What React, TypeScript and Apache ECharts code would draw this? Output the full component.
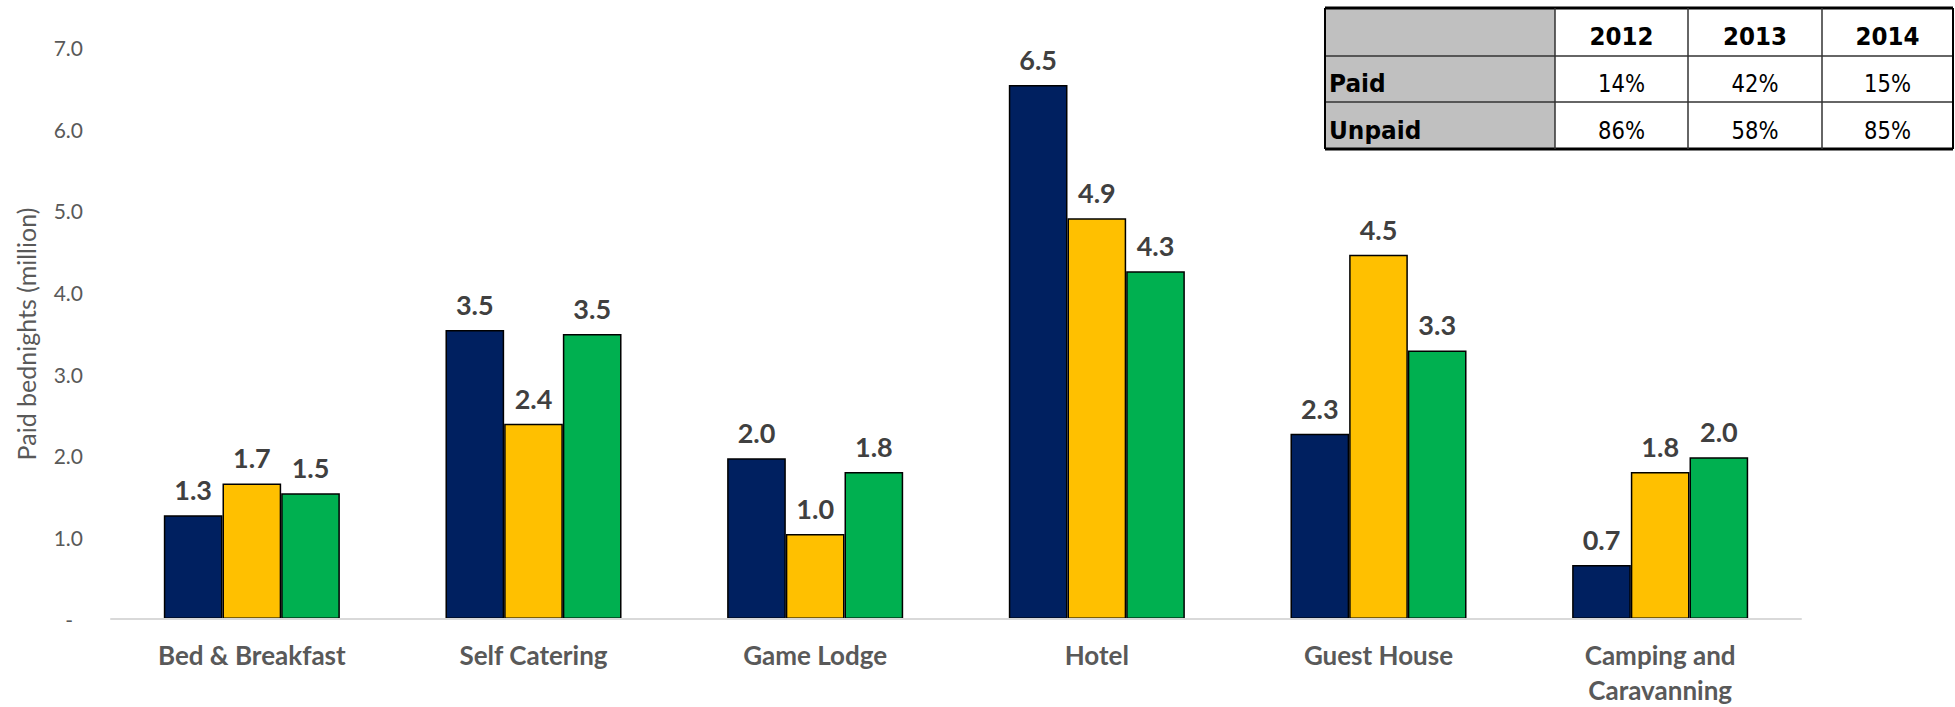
import React, { useEffect, useRef } from "react";
import * as echarts from "echarts";

const categories = [
  "Bed & Breakfast",
  "Self Catering",
  "Game Lodge",
  "Hotel",
  "Guest House",
  "Camping and\nCaravanning",
];
const seriesNames = ["2012", "2013", "2014"];
const values2012 = [1.27, 3.54, 1.97, 6.54, 2.27, 0.66];
const values2013 = [1.66, 2.39, 1.04, 4.91, 4.46, 1.8];
const values2014 = [1.54, 3.49, 1.8, 4.26, 3.29, 1.98];
const seriesColors = ["#002060", "#FFC000", "#00B050"];

const tableYears = ["2012", "2013", "2014"];
const tableRowLabels = ["Paid", "Unpaid"];
const paidShare = ["14%", "42%", "15%"];
const unpaidShare = ["86%", "58%", "85%"];

const yTitle = "Paid bednights (million)";

function buildTable(): any[] {
  const left = 1325;
  const colX = [1325, 1555, 1688, 1822, 1953];
  const rowY = [8, 56, 102, 149];
  const els: any[] = [];
  els.push({
    type: "rect",
    shape: { x: colX[0], y: rowY[0], width: colX[1] - colX[0], height: rowY[3] - rowY[0] },
    style: { fill: "#C0C0C0" },
    z: 10,
  });
  rowY.forEach((y, i) => {
    const outer = i === 0 || i === rowY.length - 1;
    els.push({
      type: "line",
      shape: { x1: left, y1: y, x2: colX[4], y2: y },
      style: { stroke: outer ? "#000" : "#333", lineWidth: outer ? 3 : 1.5 },
      z: 11,
    });
  });
  colX.forEach((x, i) => {
    const outer = i === 0 || i === colX.length - 1;
    els.push({
      type: "line",
      shape: { x1: x, y1: rowY[0], x2: x, y2: rowY[3] },
      style: { stroke: outer ? "#000" : "#333", lineWidth: outer ? 2 : 1.5 },
      z: 11,
    });
  });
  const rowMid = (r: number) => (rowY[r] + rowY[r + 1]) / 2 + 5;
  tableYears.forEach((yr, i) => {
    els.push({
      type: "text",
      x: (colX[i + 1] + colX[i + 2]) / 2,
      y: rowMid(0),
      scaleX: 0.92,
      style: {
        text: yr,
        align: "center",
        verticalAlign: "middle",
        fontFamily: "DejaVu Sans",
        fontWeight: "bold",
        fontSize: 25,
        fill: "#000",
      },
      z: 12,
    });
  });
  const rows = [paidShare, unpaidShare];
  tableRowLabels.forEach((lab, r) => {
    els.push({
      type: "text",
      x: colX[0] + 4,
      y: rowMid(r + 1),
      scaleX: 0.93,
      style: {
        text: lab,
        align: "left",
        verticalAlign: "middle",
        fontFamily: "DejaVu Sans",
        fontWeight: "bold",
        fontSize: 25,
        fill: "#000",
      },
      z: 12,
    });
    rows[r].forEach((v, i) => {
      els.push({
        type: "text",
        x: (colX[i + 1] + colX[i + 2]) / 2,
        y: rowMid(r + 1),
        scaleX: 0.88,
        style: {
          text: v,
          align: "center",
          verticalAlign: "middle",
          fontFamily: "DejaVu Sans",
          fontSize: 24,
          fill: "#000",
        },
        z: 12,
      });
    });
  });
  return els;
}

export default function App() {
  const ref = useRef<HTMLDivElement>(null);
  useEffect(() => {
    if (!ref.current) return;
    const chart = echarts.init(ref.current, undefined, { renderer: "svg" });
    const allValues = [values2012, values2013, values2014];
    chart.setOption({
      animation: false,
      backgroundColor: "#fff",
      grid: { left: 111, right: 154, top: 47.5, bottom: 88, containLabel: false },
      xAxis: {
        type: "category",
        data: categories,
        axisTick: { show: false },
        axisLine: { lineStyle: { color: "#D9D9D9", width: 2 } },
        axisLabel: {
          fontFamily: "Lato",
          fontWeight: "bold",
          fontSize: 26,
          color: "#595959",
          lineHeight: 35,
          margin: 18,
          interval: 0,
        },
        z: 5,
      },
      yAxis: {
        type: "value",
        min: 0,
        max: 7,
        interval: 1,
        axisLine: { show: false },
        axisTick: { show: false },
        splitLine: { show: false },
        axisLabel: {
          fontFamily: "Lato",
          fontSize: 21,
          color: "#595959",
          margin: 28,
          formatter: (v: number) => (v === 0 ? "{d|-}" : v.toFixed(1)),
          rich: {
            d: { fontFamily: "Lato", fontSize: 21, color: "#595959", padding: [0, 10, 0, 0] },
          },
        },
      },
      series: allValues.map((vals, i) => ({
        type: "bar",
        name: seriesNames[i],
        data: vals,
        barGap: "0%",
        barCategoryGap: "37.5%",
        itemStyle: { color: seriesColors[i], borderColor: "#000", borderWidth: 1.5 },
        label: {
          show: true,
          position: "top",
          distance: 12,
          fontFamily: "Lato",
          fontWeight: "bold",
          fontSize: 27,
          color: "#404040",
          formatter: (p: any) => Number(p.value).toFixed(1),
        },
        z: 3,
      })),
      graphic: [
        {
          type: "text",
          x: 26,
          y: 334,
          rotation: Math.PI / 2,
          style: {
            text: yTitle,
            align: "center",
            verticalAlign: "middle",
            fontFamily: "Lato",
            fontSize: 25,
            fill: "#595959",
          },
        },
        ...buildTable(),
      ],
    });
    return () => chart.dispose();
  }, []);
  return (
    <div
      ref={ref}
      style={{ position: "fixed", left: 0, top: 0, width: 1955, height: 707, background: "#fff" }}
    />
  );
}
